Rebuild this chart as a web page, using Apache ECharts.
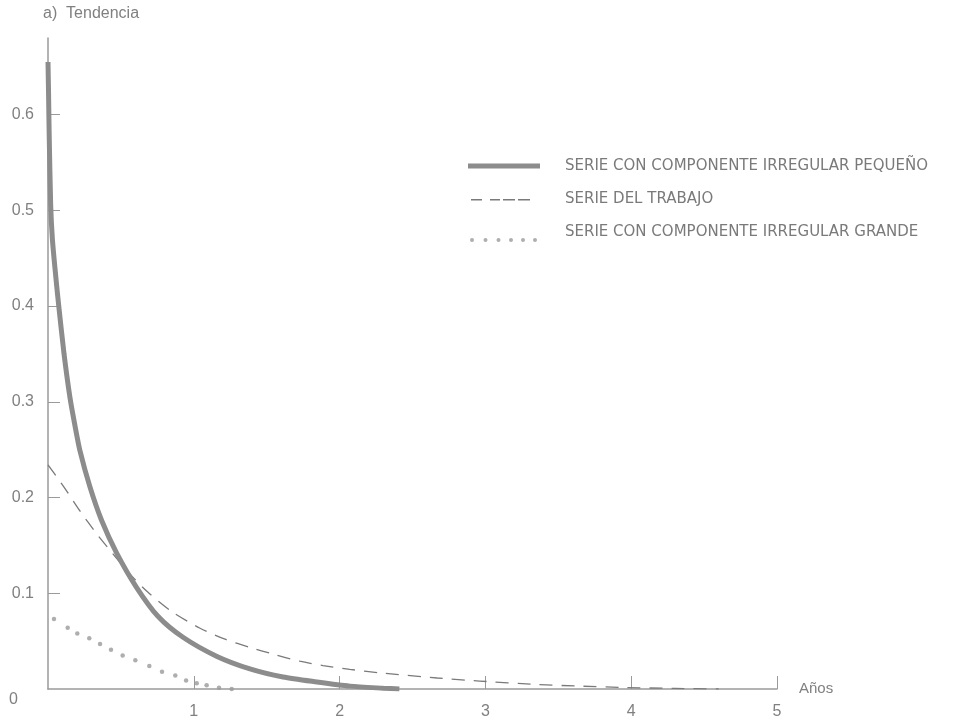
<!DOCTYPE html>
<html>
<head>
<meta charset="utf-8">
<title>Tendencia</title>
<script src="https://cdn.jsdelivr.net/npm/echarts@6/dist/echarts.min.js"></script>
<style>
  html, body { margin: 0; padding: 0; background: #ffffff; }
  #chart { width: 969px; height: 720px; }
</style>
</head>
<body>
<div id="chart"></div>
<script>
// Series names
const seriesNames = [
  'SERIE CON COMPONENTE IRREGULAR PEQUEÑO',
  'SERIE DEL TRABAJO',
  'SERIE CON COMPONENTE IRREGULAR GRANDE'
];

// Small irregular component (thick solid line)
const smallYears  = [0, 0.004, 0.008, 0.0185, 0.03, 0.05, 0.071, 0.110, 0.151, 0.185, 0.219, 0.288, 0.368, 0.471, 0.608, 0.754, 0.926, 1.159, 1.385, 1.612, 1.845, 2.07, 2.30, 2.41];
const smallValues = [0.655, 0.62, 0.58, 0.505, 0.470, 0.436, 0.404, 0.350, 0.304, 0.275, 0.249, 0.211, 0.176, 0.142, 0.106, 0.076, 0.054, 0.034, 0.021, 0.0125, 0.0073, 0.003, 0.0008, 0];

// Working series (dashed line)
const workYears  = [0, 0.105, 0.219, 0.334, 0.425, 0.55, 0.686, 0.857, 1.043, 1.214, 1.385, 1.543, 1.728, 1.886, 2.07, 2.30, 2.67, 2.96, 3.35, 3.65, 3.92, 4.3, 4.6];
const workValues = [0.234, 0.212, 0.186, 0.162, 0.145, 0.122, 0.101, 0.080, 0.0635, 0.052, 0.0435, 0.0365, 0.029, 0.0245, 0.0205, 0.0165, 0.0115, 0.0083, 0.0047, 0.003, 0.0017, 0.0006, 0];

// Large irregular component (dots)
const largeYears  = [0.041, 0.135, 0.201, 0.283, 0.357, 0.432, 0.512, 0.599, 0.695, 0.782, 0.873, 0.947, 1.02, 1.088, 1.173, 1.26];
const largeValues = [0.073, 0.064, 0.058, 0.053, 0.047, 0.041, 0.035, 0.030, 0.024, 0.018, 0.014, 0.009, 0.006, 0.004, 0.0012, 0];

// Axis ticks
const xTicks = [1, 2, 3, 4, 5];
const yTicks = [0.1, 0.2, 0.3, 0.4, 0.5, 0.6];
const yLabels = [0, 0.1, 0.2, 0.3, 0.4, 0.5, 0.6];

const zip = (xs, ys) => xs.map((x, i) => [x, ys[i]]);

const textGrey = '#808080';
const axisGrey = '#9a9a9a';
const font = 'Liberation Sans';

const chart = echarts.init(document.getElementById('chart'), null, { renderer: 'canvas' });

chart.setOption({
  backgroundColor: '#ffffff',
  animation: false,
  title: {
    text: 'a)  Tendencia',
    left: 38,
    top: 1,
    textStyle: { color: textGrey, fontFamily: font, fontSize: 16, fontWeight: 'normal' }
  },
  legend: {
    orient: 'vertical',
    left: 463,
    top: 149,
    itemWidth: 72,
    itemHeight: 24,
    itemGap: 9,
    selectedMode: false,
    textStyle: { color: '#7a7a7a', fontFamily: 'DejaVu Sans', fontSize: 15, padding: [0, 0, 0, 20] },
    data: [
      {
        name: seriesNames[0],
        icon: 'path://M0,0M72,24M0,9.5H72V14.5H0Z',
        itemStyle: { color: '#8c8c8c', borderWidth: 0 }
      },
      {
        name: seriesNames[1],
        icon: 'path://M0,0M72,24M3,12H14V13.4H3ZM22,12H32V13.4H22ZM35,12H47V13.4H35ZM50,12H62V13.4H50Z',
        itemStyle: { color: '#7a7a7a', borderWidth: 0 }
      },
      {
        name: seriesNames[2],
        icon: 'path://M0,0M72,24' +
          [4, 17.5, 30.5, 43, 55, 67].map(c =>
            'M' + (c - 2) + ',20A2,2 0 1,0 ' + (c + 2) + ',20A2,2 0 1,0 ' + (c - 2) + ',20Z'
          ).join(''),
        itemStyle: { color: '#9a9a9a', borderWidth: 0 }
      }
    ]
  },
  grid: { left: 48, right: 192, top: 38, bottom: 30, containLabel: false },
  xAxis: {
    type: 'value',
    min: 0,
    max: 5,
    name: 'Años',
    nameLocation: 'end',
    nameGap: 22,
    nameTextStyle: { color: textGrey, fontFamily: font, fontSize: 15, verticalAlign: 'middle', padding: [6, 0, 0, 0] },
    axisLine: { show: true, onZero: false, lineStyle: { color: axisGrey, width: 1.5 } },
    axisTick: { show: true, inside: true, length: 13, customValues: xTicks, lineStyle: { color: axisGrey, width: 1 } },
    axisLabel: { show: true, customValues: xTicks, margin: 15, color: textGrey, fontFamily: font, fontSize: 16 },
    splitLine: { show: false }
  },
  yAxis: {
    type: 'value',
    min: 0,
    max: 0.68,
    axisLine: { show: true, onZero: false, lineStyle: { color: axisGrey, width: 1.5 } },
    axisTick: { show: true, inside: true, length: 12, customValues: yTicks, lineStyle: { color: axisGrey, width: 1 } },
    axisLabel: {
      show: true,
      customValues: yLabels,
      margin: 14,
      color: textGrey,
      fontFamily: font,
      fontSize: 16,
      formatter: v => (v === 0 ? '{z|0}' : String(Math.round(v * 10) / 10)),
      rich: {
        z: { color: textGrey, fontFamily: font, fontSize: 16, padding: [22, 16, 0, 0] }
      }
    },
    splitLine: { show: false }
  },
  series: [
    {
      name: seriesNames[0],
      type: 'line',
      data: zip(smallYears, smallValues),
      showSymbol: false,
      symbol: 'none',
      smooth: 0.25,
      lineStyle: { color: '#8c8c8c', width: 5 },
      itemStyle: { color: '#8c8c8c' },
      z: 3
    },
    {
      name: seriesNames[1],
      type: 'line',
      data: zip(workYears, workValues),
      showSymbol: false,
      symbol: 'none',
      smooth: 0.25,
      lineStyle: { color: '#7a7a7a', width: 1.3, type: [13, 9] },
      itemStyle: { color: '#7a7a7a' },
      z: 2
    },
    {
      name: seriesNames[2],
      type: 'scatter',
      data: zip(largeYears, largeValues),
      symbol: 'circle',
      symbolSize: 4.5,
      itemStyle: { color: '#9a9a9a' },
      z: 4
    }
  ]
});
</script>
</body>
</html>
